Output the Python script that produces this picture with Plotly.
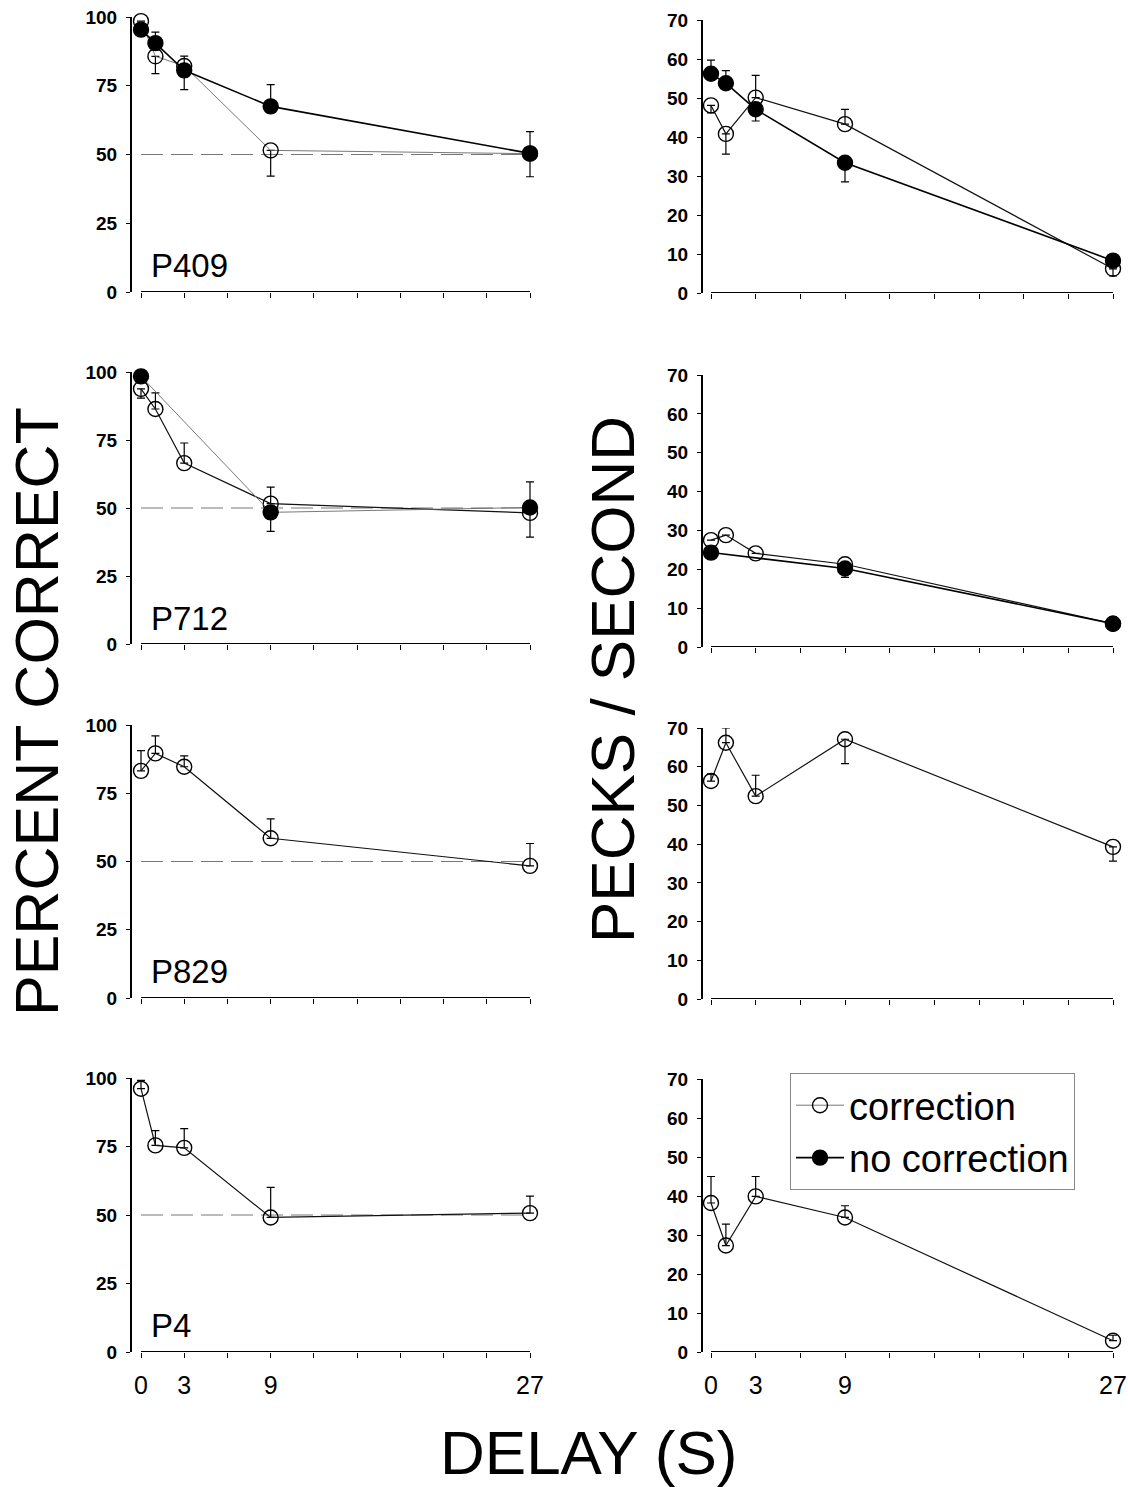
import plotly.graph_objects as go

# ---------------- data ----------------
DELAY = [0, 1, 3, 9, 27]
X_TICKS = [0, 3, 6, 9, 12, 15, 18, 21, 24, 27]
X_TICK_LABELS = ["0", "3", "", "9", "", "", "", "", "", "27"]
PC_TICKS = [0, 25, 50, 75, 100]
PPS_TICKS = [0, 10, 20, 30, 40, 50, 60, 70]
CHANCE = 50
BIRDS = ["P409", "P712", "P829", "P4"]
SERIES_NAMES = ["correction", "no correction"]

# P409 percent correct
P409_PC_CORR = [98.5, 85.7, 82.2, 51.5, 50.3]
P409_PC_CORR_UP = [0, 0, 3.6, 0, 0]
P409_PC_CORR_DN = [0, 6.3, 0, 9.4, 8.4]
P409_PC_NOCORR = [95.4, 90.5, 80.6, 67.5, 50.4]
P409_PC_NOCORR_UP = [0, 4.0, 0, 7.9, 7.9]
P409_PC_NOCORR_DN = [2.1, 0, 7.0, 0, 0]
# P409 pecks / second
P409_PPS_CORR = [48.1, 40.8, 50.1, 43.3, 6.2]
P409_PPS_CORR_UP = [0, 0, 5.7, 3.8, 0]
P409_PPS_CORR_DN = [1.9, 5.2, 0, 0, 1.8]
P409_PPS_NOCORR = [56.2, 53.8, 47.1, 33.4, 8.3]
P409_PPS_NOCORR_UP = [3.5, 3.2, 0, 0, 0]
P409_PPS_NOCORR_DN = [0, 0, 3.0, 4.9, 0]

# P712 percent correct
P712_PC_CORR = [93.8, 86.4, 66.5, 51.6, 48.2]
P712_PC_CORR_UP = [0, 5.9, 7.4, 6.1, 0]
P712_PC_CORR_DN = [3.4, 0, 0, 0, 8.9]
P712_PC_NOCORR = [98.4, None, None, 48.4, 50.2]
P712_PC_NOCORR_UP = [0, None, None, 0, 9.4]
P712_PC_NOCORR_DN = [0, None, None, 7.0, 0]
# P712 pecks / second
P712_PPS_CORR = [27.5, 28.8, 24.1, 21.3, 6.0]
P712_PPS_CORR_UP = [0, 0, 0, 0, 0]
P712_PPS_CORR_DN = [0, 0, 0, 0, 0]
P712_PPS_NOCORR = [24.3, None, None, 20.2, 6.0]
P712_PPS_NOCORR_UP = [0, None, None, 0, 0]
P712_PPS_NOCORR_DN = [0, None, None, 2.3, 0]

# P829 (correction only)
P829_PC_CORR = [83.2, 89.6, 84.7, 58.5, 48.4]
P829_PC_CORR_UP = [7.4, 6.4, 4.0, 7.1, 8.2]
P829_PC_CORR_DN = [0, 0, 0, 0, 0]
P829_PPS_CORR = [56.3, 66.2, 52.4, 67.1, 39.3]
P829_PPS_CORR_UP = [1.8, 3.8, 5.4, 0, 0]
P829_PPS_CORR_DN = [0, 0, 0, 6.3, 3.7]

# P4 (correction only)
P4_PC_CORR = [96.1, 75.4, 74.5, 49.1, 50.7]
P4_PC_CORR_UP = [3.0, 5.4, 7.0, 11.0, 6.2]
P4_PC_CORR_DN = [0, 0, 0, 0, 0]
P4_PPS_CORR = [38.2, 27.3, 39.9, 34.5, 2.9]
P4_PPS_CORR_UP = [6.8, 5.5, 5.1, 3.0, 1.4]
P4_PPS_CORR_DN = [0, 0, 0, 0, 0]

PANELS = [
    # (bird, measure, correction(y, up, dn), no correction(y, up, dn) or None)
    ("P409", "pc", (P409_PC_CORR, P409_PC_CORR_UP, P409_PC_CORR_DN),
     (P409_PC_NOCORR, P409_PC_NOCORR_UP, P409_PC_NOCORR_DN)),
    ("P409", "pps", (P409_PPS_CORR, P409_PPS_CORR_UP, P409_PPS_CORR_DN),
     (P409_PPS_NOCORR, P409_PPS_NOCORR_UP, P409_PPS_NOCORR_DN)),
    ("P712", "pc", (P712_PC_CORR, P712_PC_CORR_UP, P712_PC_CORR_DN),
     (P712_PC_NOCORR, P712_PC_NOCORR_UP, P712_PC_NOCORR_DN)),
    ("P712", "pps", (P712_PPS_CORR, P712_PPS_CORR_UP, P712_PPS_CORR_DN),
     (P712_PPS_NOCORR, P712_PPS_NOCORR_UP, P712_PPS_NOCORR_DN)),
    ("P829", "pc", (P829_PC_CORR, P829_PC_CORR_UP, P829_PC_CORR_DN), None),
    ("P829", "pps", (P829_PPS_CORR, P829_PPS_CORR_UP, P829_PPS_CORR_DN), None),
    ("P4", "pc", (P4_PC_CORR, P4_PC_CORR_UP, P4_PC_CORR_DN), None),
    ("P4", "pps", (P4_PPS_CORR, P4_PPS_CORR_UP, P4_PPS_CORR_DN), None),
]

# ---------------- layout geometry (pixels) ----------------
W, H = 1128, 1487
FONT = "Liberation Sans, Arial, Helvetica, sans-serif"

COLS = {  # axis line px, x=0 px, x=27 px, right edge px
    0: (132, 141, 530, 540),
    1: (703, 711, 1113, 1120),
}
ROWS = {  # (top px, bottom px) per column
    0: [(17, 292), (20, 293)],
    1: [(372, 644), (375, 647)],
    2: [(725, 998), (728, 999)],
    3: [(1078, 1352), (1079, 1352)],
}
LABEL_Y = {0: 265, 1: 618, 2: 971, 3: 1325}

STYLE_CORR = dict(color="#111111", width=1.2)
STYLE_NOCORR = dict(color="#000000", width=1.6)
STYLE_THIN = dict(color="#6a6a6a", width=0.9)
THIN_LINES = {("P409", "pc", "corr"), ("P712", "pc", "nocorr")}


def px_x(p):
    return p / W


def px_y(p):
    return 1 - p / H


fig = go.Figure()
layout = dict(
    template="none",
    width=W, height=H, margin=dict(l=0, r=0, t=0, b=0, pad=0),
    autosize=False,
    plot_bgcolor="white", paper_bgcolor="white",
    font=dict(family=FONT, color="black"),
    showlegend=True,
)
shapes = []
annotations = []
legend_shown = set()

for i, (bird, measure, corr, nocorr) in enumerate(PANELS):
    row, col = divmod(i, 2)
    n = i + 1
    xa = "x" if n == 1 else f"x{n}"
    ya = "y" if n == 1 else f"y{n}"
    axis_px, zero_px, end_px, right_px = COLS[col]
    top_px, bot_px = ROWS[row][col]
    unit = (end_px - zero_px) / (max(DELAY) - min(DELAY))
    xmin = min(DELAY) - (zero_px - axis_px) / unit
    xmax = min(DELAY) + (right_px - zero_px) / unit
    ymax = max(PC_TICKS) if measure == "pc" else max(PPS_TICKS)
    yticks = PC_TICKS if measure == "pc" else PPS_TICKS

    layout["xaxis" if n == 1 else f"xaxis{n}"] = dict(
        domain=[px_x(axis_px), px_x(right_px)], range=[xmin, xmax],
        anchor=ya, automargin=False,
        showline=False, showgrid=False, zeroline=False,
        tickmode="array", tickvals=X_TICKS,
        ticktext=X_TICK_LABELS, showticklabels=(row == 3),
        ticks="outside", ticklen=5, tickwidth=1.2, tickcolor="black",
        tickfont=dict(size=25, family=FONT, color="black"),
        ticklabelstandoff=6,
        fixedrange=True,
    )
    layout["yaxis" if n == 1 else f"yaxis{n}"] = dict(
        domain=[px_y(bot_px), px_y(top_px)], range=[0, ymax],
        anchor=xa, automargin=False,
        showline=True, linewidth=2, linecolor="black",
        showgrid=False, zeroline=False,
        tickmode="array", tickvals=yticks,
        ticks="outside", ticklen=4, tickwidth=1.2, tickcolor="black",
        tickfont=dict(size=19, family="Liberation Sans, Arial", color="black",
                      weight="bold"),
        ticklabelstandoff=5,
        fixedrange=True,
    )

    # x axis baseline from first to last delay
    shapes.append(dict(type="line", xref=xa, yref=ya,
                       x0=min(DELAY), x1=max(DELAY), y0=0, y1=0,
                       line=dict(color="black", width=2)))
    if measure == "pc":
        shapes.append(dict(type="line", xref=xa, yref=ya,
                           x0=min(DELAY), x1=max(DELAY), y0=CHANCE, y1=CHANCE,
                           line=dict(color="#777777", width=1, dash="22px,8px"),
                           layer="below"))
        annotations.append(dict(text=bird, xref="paper", yref="paper",
                                x=px_x(149), y=px_y(LABEL_Y[row]),
                                xanchor="left", yanchor="middle", showarrow=False,
                                font=dict(size=33, family=FONT, color="black")))

    for key, series, name, filled in (("corr", corr, SERIES_NAMES[0], False),
                                      ("nocorr", nocorr, SERIES_NAMES[1], True)):
        if series is None:
            continue
        yv, up, dn = series
        if (bird, measure, key) in THIN_LINES:
            lstyle = STYLE_THIN
        else:
            lstyle = STYLE_NOCORR if filled else STYLE_CORR
        show = name not in legend_shown
        legend_shown.add(name)
        fig.add_trace(go.Scatter(
            x=DELAY, y=yv, xaxis=xa, yaxis=ya, name=name,
            legendgroup=name, showlegend=show, connectgaps=True,
            mode="lines+markers", cliponaxis=False,
            line=dict(color=lstyle["color"], width=lstyle["width"]),
            marker=dict(symbol="circle" if filled else "circle-open",
                        size=15, color="black",
                        line=dict(color="black", width=1.4)),
            error_y=dict(type="data", symmetric=False, array=up, arrayminus=dn,
                         color="black", thickness=1.2, width=4),
        ))

# big axis titles
annotations.append(dict(text="PERCENT CORRECT", xref="paper", yref="paper",
                        x=px_x(37), y=px_y(712), textangle=-90,
                        xanchor="center", yanchor="middle", showarrow=False,
                        font=dict(size=61, family=FONT, color="black")))
annotations.append(dict(text="PECKS / SECOND", xref="paper", yref="paper",
                        x=px_x(612), y=px_y(680), textangle=-90,
                        xanchor="center", yanchor="middle", showarrow=False,
                        font=dict(size=62, family=FONT, color="black")))
annotations.append(dict(text="DELAY (S)", xref="paper", yref="paper",
                        x=px_x(588), y=px_y(1452),
                        xanchor="center", yanchor="middle", showarrow=False,
                        font=dict(size=62, family=FONT, color="black")))

layout["shapes"] = shapes
layout["annotations"] = annotations
layout["legend"] = dict(
    x=px_x(790), y=px_y(1073), xanchor="left", yanchor="top",
    bgcolor="white", bordercolor="#888888", borderwidth=1,
    font=dict(size=38, family=FONT, color="black"),
    itemwidth=48, tracegroupgap=0,
)
fig.update_layout(**layout)
fig.write_html("out.html", config={"displayModeBar": False})
